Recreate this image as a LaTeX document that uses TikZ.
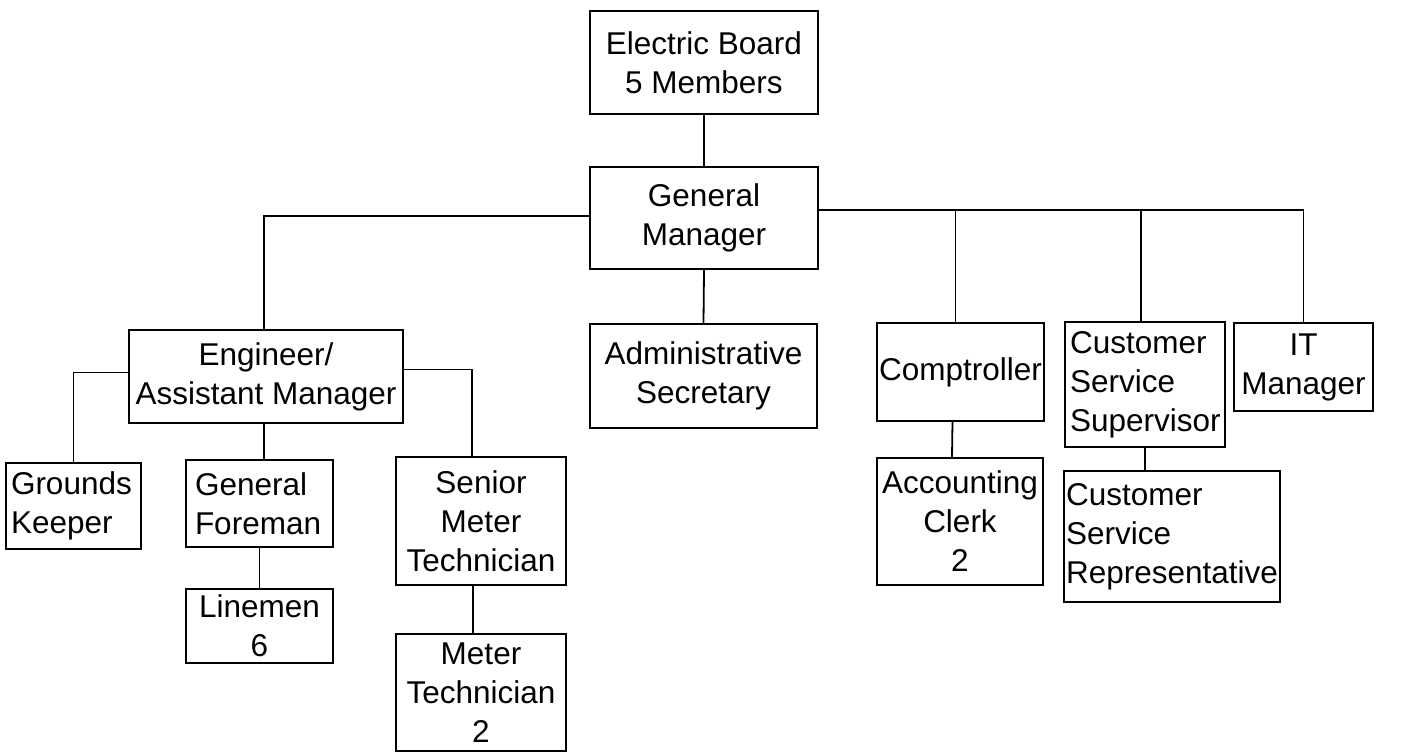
\documentclass[tikz,border=0pt]{standalone}
\usepackage{fontspec}
\setmainfont{Liberation Sans}
\begin{document}
\begin{tikzpicture}[x=1pt,y=-1pt,
  box/.style={draw, line width=1.8pt, inner sep=0pt, align=center,
    font=\fontsize{31.5}{39}\selectfont},
  lbox/.style={box, align=left},
  link/.style={line width=1.8pt}]
\fill[white] (0,0) rectangle (1417,753);
\useasboundingbox (0,0) rectangle (1417,753);
% nodes
\node[box, minimum width=228, minimum height=103] (eb) at (704,62.5) {Electric Board\\5 Members};
\node[box, minimum width=228, minimum height=102] (gm) at (704,218) {General\\Manager};
\node[box, minimum width=227, minimum height=104] (adm) at (703.5,376) {Administrative\\Secretary};
\node[box, minimum width=274, minimum height=93] (eng) at (266,376.5) {Engineer/\\Assistant Manager};
\node[lbox, inner xsep=5, text width=125, minimum height=86] (gk) at (73.5,506) {Grounds\\Keeper};
\node[lbox, inner xsep=9, text width=129, minimum height=87] (gf) at (259.5,503.5) {General\\Foreman};
\node[box, minimum width=147, minimum height=74] (lin) at (259.5,626) {Linemen\\6};
\node[box, minimum width=170, minimum height=128] (smt) at (481,521) {Senior\\Meter\\Technician};
\node[box, minimum width=170, minimum height=117] (mt) at (481,692.5) {Meter\\Technician\\2};
\node[box, minimum width=167, minimum height=98] (comp) at (960.5,372) {Comptroller};
\node[box, minimum width=166, minimum height=127] (ac) at (960,521.5) {Accounting\\Clerk\\2};
\node[lbox, inner xsep=5, text width=150, minimum height=125] (css) at (1145,384.5) {Customer\\Service\\Supervisor};
\node[lbox, inner xsep=2, text width=212, minimum height=131] (csr) at (1172,536.5) {Customer\\Service\\Representative};
\node[box, minimum width=139, minimum height=88] (it) at (1303.5,367) {IT\\Manager};
% connectors
\coordinate (gmr) at ([yshift=8]gm.east);
\coordinate (gml) at ([yshift=2]gm.west);
\coordinate (engl) at ([yshift=4]eng.west);
\coordinate (engr) at ([yshift=7]eng.east);
\draw[link] (eb.south) -- (gm.north);
\draw[link] (gm.south) -- (adm.north);
\draw[link] (gml) -| ([xshift=-2]eng.north);
\draw[link] (gmr) -| (it.north);
\draw[link] ([xshift=-5]comp.north) -- ([xshift=-5]comp.north |- gmr);
\draw[link] ([xshift=-4]css.north) -- ([xshift=-4]css.north |- gmr);
\draw[link] (engl) -| (gk.north);
\draw[link] ([xshift=-2]eng.south) -- ([xshift=-2]eng.south |- gf.north);
\draw[link] (engr) -| ([xshift=-9]smt.north);
\draw[link] (gf.south) -- (lin.north);
\draw[link] ([xshift=-8]smt.south) -- ([xshift=-8]mt.north);
\draw[link] ([xshift=-8]comp.south) -- ([xshift=-8]ac.north);
\draw[link] (css.south) -- (css.south |- csr.north);
\end{tikzpicture}
\end{document}
